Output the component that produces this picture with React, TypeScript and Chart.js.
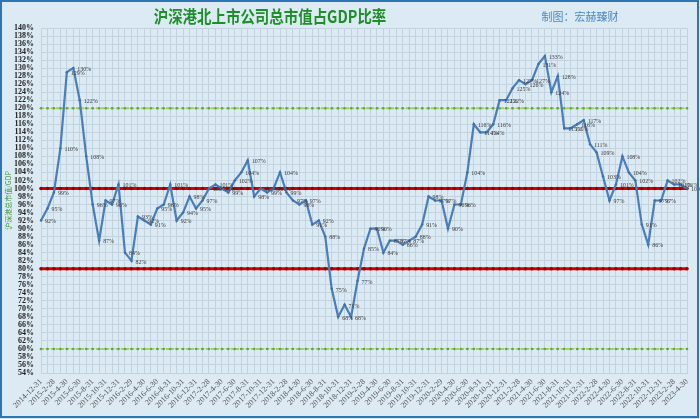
import React, { useEffect, useRef } from 'react';
import { Chart, registerables } from 'chart.js';

Chart.register(...registerables);

const months: string[] = [
  '2014-12-31',
  '2015-1-31', '2015-2-28', '2015-3-31', '2015-4-30', '2015-5-31', '2015-6-30', '2015-7-31', '2015-8-31', '2015-9-30', '2015-10-31', '2015-11-30', '2015-12-31',
  '2016-1-31', '2016-2-29', '2016-3-31', '2016-4-30', '2016-5-31', '2016-6-30', '2016-7-31', '2016-8-31', '2016-9-30', '2016-10-31', '2016-11-30', '2016-12-31',
  '2017-1-31', '2017-2-28', '2017-3-31', '2017-4-30', '2017-5-31', '2017-6-30', '2017-7-31', '2017-8-31', '2017-9-30', '2017-10-31', '2017-11-30', '2017-12-31',
  '2018-1-31', '2018-2-28', '2018-3-31', '2018-4-30', '2018-5-31', '2018-6-30', '2018-7-31', '2018-8-31', '2018-9-30', '2018-10-31', '2018-11-30', '2018-12-31',
  '2019-1-31', '2019-2-28', '2019-3-31', '2019-4-30', '2019-5-31', '2019-6-30', '2019-7-31', '2019-8-31', '2019-9-30', '2019-10-31', '2019-11-30', '2019-12-31',
  '2020-1-31', '2020-2-29', '2020-3-31', '2020-4-30', '2020-5-31', '2020-6-30', '2020-7-31', '2020-8-31', '2020-9-30', '2020-10-31', '2020-11-30', '2020-12-31',
  '2021-1-31', '2021-2-28', '2021-3-31', '2021-4-30', '2021-5-31', '2021-6-30', '2021-7-31', '2021-8-31', '2021-9-30', '2021-10-31', '2021-11-30', '2021-12-31',
  '2022-1-31', '2022-2-28', '2022-3-31', '2022-4-30', '2022-5-31', '2022-6-30', '2022-7-31', '2022-8-31', '2022-9-30', '2022-10-31', '2022-11-30', '2022-12-31',
  '2023-1-31', '2023-2-28', '2023-3-31', '2023-4-30',
];

// 总市值/GDP (%)
const ratio: number[] = [
  92,
  95, 99, 110, 129, 130, 122, 108, 96, 87, 97, 96, 101,
  84, 82, 93, 92, 91, 95, 96, 101, 92, 94, 98, 95,
  97, 100, 101, 100, 99, 102, 104, 107, 98, 100, 99, 100,
  104, 99, 97, 96, 97, 91, 92, 88, 75, 68, 71, 68,
  77, 85, 90, 90, 84, 87, 87, 86, 87, 88, 91, 98,
  97, 97, 90, 96, 96, 104, 116, 114, 114, 116, 122, 122,
  125, 127, 126, 127, 131, 133, 124, 128, 115, 115, 116, 117,
  111, 109, 103, 97, 101, 108, 104, 102, 91, 86, 97, 97,
  102, 101, 101, 100,
];

const greenLevels: number[] = [120, 60];
const redLevels: number[] = [100, 80];

const yMin = 54;
const yMax = 140;
const yStep = 2;

const titleText = '沪深港北上市公司总市值占GDP比率';
const creditText = '制图：宏赫臻财';
const yTitleText = '沪深港总市值/GDP';

export default function App() {
  const ref = useRef<HTMLCanvasElement | null>(null);

  useEffect(() => {
    const canvas = ref.current;
    if (!canvas) return;

    const bgPlugin = {
      id: 'bgFrame',
      beforeDraw(chart: any) {
        const ctx = chart.ctx;
        ctx.save();
        ctx.fillStyle = '#dceaf3';
        ctx.fillRect(0, 0, chart.width, chart.height);
        ctx.restore();
      },
      afterDraw(chart: any) {
        const ctx = chart.ctx;
        ctx.save();
        ctx.strokeStyle = '#2e75b6';
        ctx.lineWidth = 2;
        ctx.strokeRect(1, 1, chart.width - 3, chart.height - 3);
        ctx.fillStyle = '#1f8f2a';
        ctx.font = 'bold 17px "Noto Sans CJK SC"';
        ctx.textAlign = 'center';
        ctx.textBaseline = 'middle';
        ctx.translate(270, 17);
        ctx.scale(0.85, 1);
        ctx.fillText(titleText, 0, 0);
        ctx.restore();

        ctx.save();
        ctx.fillStyle = '#4a88c8';
        ctx.font = '11px "Noto Sans CJK SC"';
        ctx.textAlign = 'center';
        ctx.textBaseline = 'middle';
        ctx.fillText(creditText, 580, 17);
        ctx.restore();

        const ca = chart.chartArea;
        ctx.save();
        ctx.fillStyle = '#3a9a3a';
        ctx.font = '7px "Noto Sans CJK SC"';
        ctx.textAlign = 'center';
        ctx.textBaseline = 'middle';
        ctx.translate(8, (ca.top + ca.bottom) / 2);
        ctx.rotate(-Math.PI / 2);
        ctx.fillText(yTitleText, 0, 0);
        ctx.restore();
      },
    };

    const labelPlugin = {
      id: 'pointLabels',
      afterDatasetsDraw(chart: any) {
        const ctx = chart.ctx;
        const meta = chart.getDatasetMeta(0);
        ctx.save();
        ctx.fillStyle = '#3a3a3a';
        ctx.font = '7px "Liberation Serif"';
        ctx.textAlign = 'left';
        ctx.textBaseline = 'middle';
        meta.data.forEach((pt: any, i: number) => {
          ctx.save();
          ctx.translate(pt.x + 4, pt.y + 1);
          ctx.scale(0.85, 1);
          ctx.fillText(Math.round(ratio[i]) + '%', 0, 0);
          ctx.restore();
        });
        ctx.restore();
      },
    };

    const levelDataset = (level: number, color: string, dot: string, width: number, r: number, dash: number[]) => ({
      data: months.map(() => level),
      borderColor: color,
      backgroundColor: dot,
      borderWidth: width,
      borderDash: dash,
      pointRadius: r,
      pointBorderWidth: 0,
      pointBackgroundColor: dot,
      tension: 0,
      fill: false,
    });

    const chart = new Chart(canvas, {
      type: 'line',
      data: {
        labels: months,
        datasets: [
          {
            data: ratio,
            borderColor: '#4a7ebb',
            backgroundColor: '#4a7ebb',
            borderWidth: 2.2,
            pointRadius: 1.2,
            pointBorderWidth: 0,
            pointBackgroundColor: '#3f6fa8',
            tension: 0,
            fill: false,
          } as any,
          ...redLevels.map((l) => levelDataset(l, '#d40000', '#9a0000', 3, 1.8, [])),
          ...greenLevels.map((l) => levelDataset(l, '#9fd45e', '#5fa83a', 2, 1.3, [3, 2])),
        ],
      },
      options: {
        animation: false,
        responsive: false,
        devicePixelRatio: 1,
        layout: { padding: { left: 0, right: 13, top: 28, bottom: 0 } },
        plugins: {
          legend: { display: false },
          tooltip: { enabled: false },
          title: { display: false },
        },
        scales: {
          x: {
            type: 'category',
            offset: false,
            grid: { color: '#c2d3df', lineWidth: 1, drawTicks: false },
            border: { display: true, color: '#c2d3df' },
            ticks: {
              autoSkip: false,
              maxRotation: 45,
              minRotation: 45,
              padding: 4,
              color: '#555555',
              font: { family: 'Liberation Serif', size: 8 },
              callback: (_v: any, idx: number) => (idx % 2 === 0 ? months[idx] : ''),
            },
            afterFit: (s: any) => {
              s.height = 46;
            },
          },
          y: {
            min: yMin,
            max: yMax,
            grid: { color: '#c2d3df', lineWidth: 1, drawTicks: false },
            border: { display: true, color: '#c2d3df' },
            ticks: {
              stepSize: yStep,
              autoSkip: false,
              padding: 7,
              color: '#222222',
              font: { family: 'Liberation Serif', size: 8, weight: 'bold' },
              callback: (v: any) => v + '%',
            },
            afterFit: (s: any) => {
              s.width = 41;
            },
          },
        },
      },
      plugins: [bgPlugin, labelPlugin],
    } as any);

    return () => chart.destroy();
  }, []);

  return (
    <div style={{ position: 'fixed', left: 0, top: 0, width: 700, height: 419 }}>
      <canvas ref={ref} width={700} height={419} style={{ display: 'block', width: 700, height: 419 }} />
    </div>
  );
}
